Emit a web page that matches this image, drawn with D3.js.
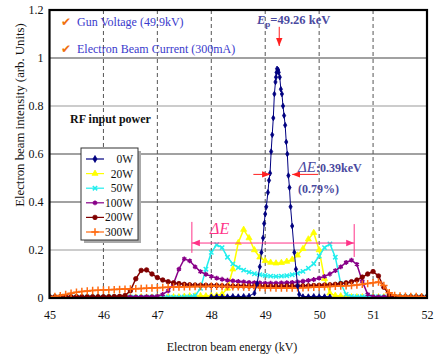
<!DOCTYPE html>
<html>
<head>
<meta charset="utf-8">
<script src="https://cdn.jsdelivr.net/npm/d3@7"></script>
<style>
  body { margin: 0; background: #fff; }
  svg { display: block; }
</style>
</head>
<body>
<svg width="434" height="356"></svg>
<script>
// energy grid in kV
var energies = [45.0,45.1,45.2,45.3,45.4,45.5,45.6,45.7,45.8,45.9,
  46.0,46.1,46.2,46.3,46.4,46.5,46.6,46.7,46.8,46.9,
  47.0,47.1,47.2,47.3,47.4,47.5,47.6,47.7,47.8,47.9,
  48.0,48.1,48.2,48.3,48.4,48.5,48.6,48.7,48.8,48.9,
  49.0,49.1,49.2,49.3,49.4,49.5,49.6,49.7,49.8,49.9,
  50.0,50.1,50.2,50.3,50.4,50.5,50.6,50.7,50.8,50.9,
  51.0,51.1,51.2,51.3,51.4,51.5,51.6,51.7,51.8,51.9,52.0];

// 0W has its own (finer) energy points
var e0W = [48.0,48.1,48.2,48.3,48.4,48.5,48.6,48.7,48.8,48.85,48.9,48.93,48.96,48.98,49.0,49.02,49.05,49.07,49.09,49.11,
  49.13,49.15,49.17,49.19,49.2,49.21,49.22,49.24,49.25,49.27,49.29,49.31,49.33,49.35,49.37,49.39,49.41,49.43,49.45,49.47,
  49.5,49.54,49.57,49.6,49.63,49.7,49.8,49.9,50.0,50.1,50.2];
var i0W = [0.005,0.006,0.005,0.006,0.007,0.006,0.007,0.008,0.02,0.06,0.13,0.19,0.25,0.31,0.35,0.38,0.44,0.49,0.52,0.61,
  0.68,0.75,0.85,0.9,0.92,0.94,0.955,0.95,0.94,0.92,0.87,0.85,0.8,0.76,0.72,0.65,0.6,0.51,0.46,0.38,
  0.3,0.19,0.12,0.05,0.015,0.006,0.006,0.007,0.006,0.006,0.005];

var i20W = [0.003,0.003,0.004,0.003,0.003,0.004,0.003,0.003,0.004,0.003,
  0.003,0.004,0.003,0.003,0.004,0.003,0.003,0.004,0.003,0.003,
  0.004,0.003,0.003,0.004,0.004,0.006,0.008,0.008,0.009,0.008,
  0.009,0.01,0.016,0.04,0.12,0.23,0.285,0.25,0.2,0.17,
  0.155,0.148,0.145,0.147,0.152,0.16,0.178,0.205,0.245,0.272,
  0.2,0.08,0.02,0.01,0.008,0.007,0.004,0.004,0.004,0.004,
  0.004,0.004,0.004,0.004,0.004,0.004,0.004,0.004,0.004,0.004,0.004];

var i50W = [0.003,0.003,0.003,0.004,0.003,0.003,0.003,0.004,0.003,0.003,
  0.003,0.004,0.003,0.003,0.003,0.004,0.003,0.003,0.003,0.004,
  0.003,0.003,0.004,0.003,0.003,0.004,0.005,0.01,0.04,0.12,
  0.19,0.222,0.21,0.17,0.142,0.127,0.116,0.108,0.101,0.097,
  0.094,0.091,0.09,0.091,0.093,0.097,0.103,0.111,0.124,0.143,
  0.175,0.21,0.225,0.17,0.06,0.015,0.006,0.005,0.005,0.005,
  0.005,0.005,0.004,0.004,0.004,0.004,0.004,0.004,0.004,0.004,0.004];

var i100W = [0.005,0.005,0.005,0.005,0.005,0.005,0.005,0.005,0.005,0.005,
  0.005,0.005,0.005,0.005,0.005,0.005,0.005,0.005,0.006,0.006,
  0.008,0.015,0.03,0.06,0.12,0.163,0.155,0.13,0.11,0.099,
  0.09,0.083,0.078,0.074,0.071,0.069,0.067,0.065,0.064,0.063,
  0.062,0.062,0.062,0.063,0.064,0.065,0.067,0.07,0.073,0.077,
  0.083,0.09,0.1,0.114,0.13,0.148,0.158,0.14,0.07,0.015,
  0.006,0.005,0.005,0.005,0.005,0.005,0.005,0.005,0.005,0.005,0.005];

var i200W = [0.005,0.005,0.005,0.005,0.005,0.005,0.005,0.005,0.005,0.005,
  0.005,0.005,0.006,0.007,0.01,0.03,0.08,0.115,0.117,0.1,
  0.085,0.075,0.068,0.063,0.06,0.057,0.055,0.054,0.053,0.053,
  0.052,0.052,0.051,0.051,0.05,0.05,0.05,0.049,0.049,0.049,
  0.049,0.049,0.049,0.049,0.05,0.05,0.05,0.051,0.051,0.052,
  0.053,0.054,0.055,0.057,0.06,0.063,0.068,0.075,0.087,0.1,
  0.11,0.092,0.045,0.012,0.006,0.005,0.005,0.005,0.005,0.005,0.005];

var i300W = [0.005,0.006,0.01,0.015,0.02,0.024,0.027,0.029,0.031,0.032,
  0.033,0.034,0.035,0.036,0.037,0.038,0.039,0.04,0.041,0.042,
  0.043,0.044,0.045,0.046,0.046,0.047,0.047,0.048,0.048,0.048,
  0.049,0.049,0.048,0.048,0.047,0.047,0.046,0.045,0.045,0.044,
  0.043,0.043,0.042,0.042,0.042,0.042,0.043,0.043,0.044,0.045,
  0.046,0.047,0.048,0.049,0.05,0.051,0.052,0.054,0.057,0.06,
  0.064,0.067,0.052,0.022,0.011,0.008,0.007,0.006,0.006,0.005,0.005];

var seriesNames = ["0W", "20W", "50W", "100W", "200W", "300W"];
var seriesColors = ["#000080", "#ffff00", "#22eeee", "#880088", "#800000", "#ff6a10"];
var xTicks = [45, 46, 47, 48, 49, 50, 51, 52];
var yTicks = [0, 0.2, 0.4, 0.6, 0.8, 1, 1.2];

var symbols = [d3.symbolDiamond, d3.symbolTriangle, d3.symbolX, d3.symbolAsterisk, d3.symbolCircle, d3.symbolPlus];
var symSizes = [9, 16, 14, 16, 16, 20];

function pairs(xs, ys){
  return xs.map((v, k) => ({x: v, y: ys[k]}));
}
var series = [
  {pts: pairs(e0W, i0W)},
  {pts: pairs(energies, i20W)},
  {pts: pairs(energies, i50W)},
  {pts: pairs(energies, i100W)},
  {pts: pairs(energies, i200W)},
  {pts: pairs(energies, i300W)}
];
series.forEach((s, k) => {
  s.name = seriesNames[k]; s.color = seriesColors[k]; s.symbol = symbols[k]; s.size = symSizes[k];
});

var SERIF = "'Liberation Serif', 'Times New Roman', serif";
var svg = d3.select("svg");
var pLeft = 49.5, pRight = 427, pTop = 10, pBottom = 298;

function label(x0, y0, txt, size, color){
  return svg.append("text").attr("x", x0).attr("y", y0).attr("font-size", size)
    .attr("fill", color || "#111").style("font-family", SERIF).text(txt);
}

var x = d3.scaleLinear().domain([45, 52]).range([pLeft, pRight]);
var y = d3.scaleLinear().domain([0, 1.2]).range([pBottom, pTop]);

var defs = svg.append("defs");
defs.append("clipPath").attr("id", "clip")
  .append("rect").attr("x", pLeft).attr("y", pTop).attr("width", pRight - pLeft).attr("height", pBottom - pTop);
function arrowMarker(id, color, w){
  defs.append("marker").attr("id", id)
    .attr("viewBox", "0 0 10 10").attr("refX", 10).attr("refY", 5)
    .attr("markerWidth", w).attr("markerHeight", w).attr("orient", "auto")
    .attr("markerUnits", "userSpaceOnUse")
    .append("path").attr("d", "M0,1 L10,5 L0,9 Z").attr("fill", color);
}
arrowMarker("arrRed", "#ff2020", 8);
arrowMarker("arrPink", "#ff3388", 8);

// gridlines
var hgColors = {0.2: "#999", 0.4: "#444", 0.6: "#444", 0.8: "#999", 1: "#444"};
svg.append("g").selectAll("line").data(yTicks.filter(t => t > 0 && t < 1.2)).enter()
  .append("line")
  .attr("x1", pLeft).attr("x2", pRight)
  .attr("y1", d => y(d)).attr("y2", d => y(d))
  .attr("stroke", d => hgColors[d]).attr("stroke-width", 1.2);
svg.append("g").selectAll("line").data(xTicks.filter(t => t > 45 && t < 52)).enter()
  .append("line")
  .attr("x1", d => x(d)).attr("x2", d => x(d))
  .attr("y1", pTop).attr("y2", pBottom)
  .attr("stroke", "#555").attr("stroke-width", 1).attr("stroke-dasharray", "4,3");

// axes (labels only)
var xAxis = svg.append("g").attr("transform", "translate(0," + pBottom + ")")
  .call(d3.axisBottom(x).tickValues(xTicks).tickFormat(d3.format("d")).tickSize(0).tickPadding(12));
var yAxis = svg.append("g").attr("transform", "translate(" + pLeft + ",0)")
  .call(d3.axisLeft(y).tickValues(yTicks).tickFormat(d => d === 0 || d === 1 ? d : d3.format(".1f")(d)).tickSize(0).tickPadding(6));
[xAxis, yAxis].forEach(a => {
  a.attr("font-size", 12);
  a.select(".domain").remove();
  a.selectAll("text").attr("fill", "#111").style("font-family", SERIF);
});

// data
var plot = svg.append("g").attr("clip-path", "url(#clip)");
var line = d3.line().x(d => x(d.x)).y(d => y(d.y));
function isStroked(s){
  return s.symbol === d3.symbolX || s.symbol === d3.symbolAsterisk || s.symbol === d3.symbolPlus;
}
var drawOrder = [1, 2, 3, 4, 5, 0];
drawOrder.forEach(k => {
  var s = series[k];
  var g = plot.append("g");
  g.append("path").datum(s.pts).attr("d", line)
    .attr("fill", "none").attr("stroke", s.color).attr("stroke-width", k === 0 ? 1 : 1.5);
  var sym = d3.symbol().type(s.symbol).size(s.size);
  g.selectAll("path.m").data(s.pts).enter().append("path").attr("class", "m")
    .attr("transform", d => "translate(" + x(d.x) + "," + y(d.y) + ")")
    .attr("d", sym)
    .attr("fill", isStroked(s) ? "none" : s.color)
    .attr("stroke", s.color).attr("stroke-width", isStroked(s) ? 1.5 : 0.8);
});

// frame
svg.append("rect").attr("x", pLeft).attr("y", pTop).attr("width", pRight - pLeft).attr("height", pBottom - pTop)
  .attr("fill", "none").attr("stroke", "#000").attr("stroke-width", 2.2);

// axis titles
label(232, 351, "Electron beam energy (kV)", 12).attr("text-anchor", "middle");
label(0, 0, "Electron beam intensity (arb. Units)", 12.8).attr("text-anchor", "middle")
  .attr("transform", "translate(24,115) rotate(-90)");

// condition notes
var notes = ["Gun Voltage (49.9kV)", "Electron Beam Current (300mA)"];
notes.forEach((t, k) => {
  var yy = 26 + k * 27;
  svg.append("text").attr("x", 61).attr("y", yy).attr("font-size", 12).attr("fill", "#f07010")
    .style("font-family", "'DejaVu Sans', sans-serif").text("\u2714");
  label(77, yy, t, 12, "#3a3acc");
});

label(70, 123, "RF input power", 12).attr("font-weight", "bold");

// legend
var lg = svg.append("g");
lg.append("rect").attr("x", 84).attr("y", 151).attr("width", 57).attr("height", 92).attr("fill", "#aaa");
lg.append("rect").attr("x", 81).attr("y", 148).attr("width", 57).attr("height", 92)
  .attr("fill", "#fff").attr("stroke", "#333").attr("stroke-width", 1);
series.forEach((s, k) => {
  var yy = 159 + k * 14.6;
  lg.append("line").attr("x1", 86).attr("x2", 104).attr("y1", yy).attr("y2", yy)
    .attr("stroke", s.color).attr("stroke-width", 1.2);
  lg.append("path").attr("transform", "translate(95," + yy + ")")
    .attr("d", d3.symbol().type(s.symbol).size(k === 0 ? 14 : s.size)())
    .attr("fill", isStroked(s) ? "none" : s.color).attr("stroke", s.color).attr("stroke-width", isStroked(s) ? 1.5 : 0.8);
  lg.append("text").attr("x", 133).attr("y", yy + 4).attr("text-anchor", "end")
    .attr("font-size", 11.5).attr("fill", "#111").style("font-family", SERIF).text(s.name);
});

// peak annotation
var ep = label(257, 24, null, 12.5, "#4a4aa0").attr("font-weight", "bold");
ep.append("tspan").attr("font-style", "italic").text("E");
ep.append("tspan").attr("font-size", 9).attr("dy", 3).text("p");
ep.append("tspan").attr("dy", -3).text("=49.26 keV");
svg.append("line").attr("x1", x(49.26)).attr("x2", x(49.26)).attr("y1", y(1.13)).attr("y2", y(1.05))
  .attr("stroke", "#ff2020").attr("stroke-width", 1).attr("marker-end", "url(#arrRed)");

// FWHM arrows
svg.append("line").attr("x1", x(48.78)).attr("x2", x(49.09)).attr("y1", y(0.515)).attr("y2", y(0.515))
  .attr("stroke", "#ff2020").attr("stroke-width", 1).attr("marker-end", "url(#arrRed)");
svg.append("line").attr("x1", x(49.98)).attr("x2", x(49.5)).attr("y1", y(0.515)).attr("y2", y(0.515))
  .attr("stroke", "#ff2020").attr("stroke-width", 1).attr("marker-end", "url(#arrRed)");
var de = label(298, 172, null, 12, "#4a4aa0").attr("font-weight", "bold");
de.append("tspan").attr("font-style", "italic").attr("font-weight", "normal").attr("font-size", 15).text("\u0394E");
de.append("tspan").text(":0.39keV");
label(298, 193, "(0.79%)", 12, "#4a4aa0").attr("font-weight", "bold");

// overall spread arrow
var pink = "#ff3388";
svg.append("line").attr("x1", x(48.9)).attr("x2", x(47.64)).attr("y1", y(0.229)).attr("y2", y(0.229))
  .attr("stroke", pink).attr("stroke-width", 1).attr("marker-end", "url(#arrPink)");
svg.append("line").attr("x1", x(48.9)).attr("x2", x(50.65)).attr("y1", y(0.229)).attr("y2", y(0.229))
  .attr("stroke", pink).attr("stroke-width", 1).attr("marker-end", "url(#arrPink)");
svg.append("line").attr("x1", x(47.64)).attr("x2", x(47.64)).attr("y1", y(0.317)).attr("y2", y(0.188))
  .attr("stroke", pink).attr("stroke-width", 1);
svg.append("line").attr("x1", x(50.65)).attr("x2", x(50.65)).attr("y1", y(0.308)).attr("y2", y(0.171))
  .attr("stroke", pink).attr("stroke-width", 1);
label(210, 234, "\u0394E", 16, pink).attr("font-style", "italic");
</script>
</body>
</html>
